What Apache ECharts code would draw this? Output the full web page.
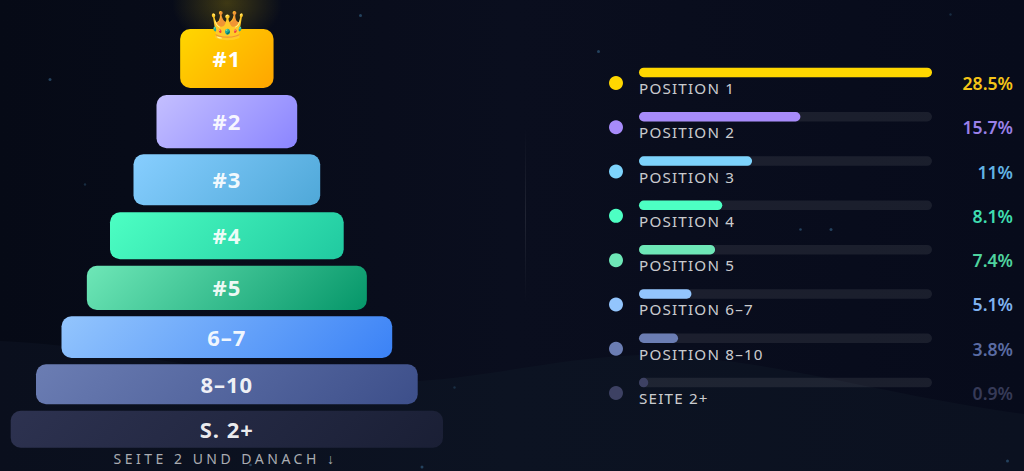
<!DOCTYPE html>
<html>
<head>
<meta charset="utf-8">
<style>
html,body{margin:0;padding:0;width:1024px;height:471px;overflow:hidden;background:#070b18}
#bg{position:absolute;left:0;top:0}
#chart{position:absolute;left:0;top:0;width:1024px;height:471px}
#chart text[style*="15.2px"]{letter-spacing:1.2px}
#chart text[style*="14px"]{letter-spacing:3.5px}
#chart text[style*="22px"]{letter-spacing:1px}
</style>
<script src="https://cdn.jsdelivr.net/npm/echarts@6/dist/echarts.min.js"></script>
</head>
<body>
<svg id="bg" width="1024" height="471" xmlns="http://www.w3.org/2000/svg">
  <defs>
    <linearGradient id="sky" x1="0" y1="0" x2="1" y2="0">
      <stop offset="0" stop-color="#060a16"/><stop offset="0.5" stop-color="#0a0e1e"/><stop offset="1" stop-color="#070b1b"/>
    </linearGradient>
    <linearGradient id="wave" x1="0" y1="0" x2="1" y2="0">
      <stop offset="0" stop-color="#0a0f1d"/><stop offset="0.5" stop-color="#0c1322"/><stop offset="1" stop-color="#0b1120"/>
    </linearGradient>
    <radialGradient id="glow"><stop offset="0" stop-color="#ffd700" stop-opacity="0.22"/><stop offset="1" stop-color="#ffd700" stop-opacity="0"/></radialGradient>
    <linearGradient id="ray" x1="0" y1="0" x2="0" y2="1"><stop offset="0" stop-color="#fff" stop-opacity="0"/><stop offset="0.5" stop-color="#fff" stop-opacity="0.09"/><stop offset="1" stop-color="#fff" stop-opacity="0"/></linearGradient>
  </defs>
  <rect width="1024" height="471" fill="url(#sky)"/>
  <path d="M0 341 C120 345 280 392 420 381 C500 375 560 358 640 355 C760 355 880 395 1024 414 L1024 471 L0 471Z" fill="url(#wave)"/>
  <ellipse cx="227" cy="3" rx="55" ry="42" fill="url(#glow)"/>
  <rect x="525" y="128" width="1" height="175" fill="url(#ray)"/>
  <g fill="#24425e">
    <circle cx="50" cy="79.500" r="1.500"/><circle cx="85" cy="184.500" r="1.200" opacity=".6"/><circle cx="360.500" cy="15.500" r="1.500"/>
    <circle cx="598.500" cy="51.500" r="1.500"/><circle cx="800.500" cy="229.500" r="1.300"/><circle cx="831" cy="229.500" r="1.500"/>
    <circle cx="454.500" cy="387.500" r="1.200" opacity=".6"/><circle cx="422" cy="467" r="1.500"/><circle cx="250.500" cy="465" r="1.300"/>
    <circle cx="1007.500" cy="461" r="1.500"/><circle cx="950.500" cy="14.500" r="1.200" opacity=".6"/>
  </g>
</svg>
<div id="chart"></div>
<script>
// ---- chart values ----
const tierLabels = ['#1', '#2', '#3', '#4', '#5', '6–7', '8–10', 'S. 2+'];
const rowLabels = ['POSITION 1', 'POSITION 2', 'POSITION 3', 'POSITION 4', 'POSITION 5', 'POSITION 6–7', 'POSITION 8–10', 'SEITE 2+'];
const shares = [28.5, 15.7, 11, 8.1, 7.4, 5.1, 3.8, 0.9];
const caption = 'SEITE 2 UND DANACH ↓';
const crown = '👑';

// ---- pyramid extents, read in chart units (axes below are 1 unit = 1 px) ----
const tierWidths = [93.4, 140.7, 186.7, 233.7, 280, 330.7, 381.7, 432.3];
const tierTops = [29, 95, 154.3, 212.3, 265.7, 316.3, 364.3, 410.7];
const tierBottoms = [88, 148.3, 205.3, 259.3, 310, 358, 404.3, 447.7];

// ---- styles ----
const dotColors = ['#FFD700', '#A78BFA', '#7DD3FC', '#4DFFC3', '#6EE7B7', '#93C5FD', '#6B7DB3', '#3D4163'];
const valueColors = ['#F5C518', '#9A80E8', '#62B3E4', '#3FDDAF', '#4FD39F', '#7FB2F0', '#5A6BA3', '#363A57'];
const gradStart = ['#FFD700', '#C4BFFF', '#87CEFF', '#4DFFC3', '#6EE7B7', '#93C5FD', '#6B7DB3', '#2D3250'];
const gradEnd = ['#FFA500', '#8B85FF', '#4FA8D8', '#20C9A0', '#059669', '#3B82F6', '#3D4F8A', '#1A1F35'];
const FONT = '"Noto Sans", sans-serif';
const maxShare = Math.max.apply(null, shares);

const chart = echarts.init(document.getElementById('chart'), null, {renderer: 'svg', width: 1024, height: 471});

function renderTier(params, api) {
  const i = params.dataIndex;
  const w = api.value(0), t = api.value(1), b = api.value(2);
  const p0 = api.coord([-w / 2, t]), p1 = api.coord([w / 2, b]);
  const W = p1[0] - p0[0], H = p1[1] - p0[1];
  const cx = p0[0] + W / 2, cy = p0[1] + H / 2, d = (W + H) / 4;
  return {
    type: 'group',
    children: [{
      type: 'rect',
      shape: {x: p0[0], y: p0[1], width: W, height: H, r: 10},
      style: {
        fill: new echarts.graphic.LinearGradient(cx - d, cy - d, cx + d, cy + d,
          [{offset: 0, color: gradStart[i]}, {offset: 1, color: gradEnd[i]}], true)
      }
    }, {
      type: 'text',
      style: {
        x: cx, y: cy - 0.5, text: tierLabels[i], fill: i === 0 ? '#ffffff' : 'rgba(255,255,255,0.92)',
        font: '700 22px ' + FONT, align: 'center', verticalAlign: 'middle'
      }
    }]
  };
}

chart.setOption({
  backgroundColor: 'transparent',
  animation: false,
  grid: [
    {left: 10.7, width: 432.3, top: 0, height: 471},
    {left: 639, width: 293, top: 50.3, height: 354.4},
    {left: 609, width: 404, top: 60.8, height: 354.4}
  ],
  xAxis: [
    {gridIndex: 0, type: 'value', min: -216.15, max: 216.15, show: false},
    {gridIndex: 1, type: 'value', min: 0, max: maxShare, show: false},
    {gridIndex: 2, type: 'value', min: 0, max: 404, show: false}
  ],
  yAxis: [
    {gridIndex: 0, type: 'value', min: 0, max: 471, inverse: true, show: false},
    {gridIndex: 1, type: 'category', data: rowLabels, inverse: true, show: false},
    {gridIndex: 2, type: 'category', data: rowLabels, inverse: true, show: false}
  ],
  title: {
    text: caption, left: 225.5, top: 450, textAlign: 'center', padding: 0,
    textStyle: {color: 'rgba(255,255,255,0.66)', fontFamily: FONT, fontSize: 14, fontWeight: 400, lineHeight: 16}
  },
  graphic: [{
    type: 'text', left: 210, top: 11,
    style: {text: crown, font: '28px "Noto Color Emoji", ' + FONT, fill: '#FFD700'}, z: 20
  }],
  series: [
    {
      type: 'custom', xAxisIndex: 0, yAxisIndex: 0, renderItem: renderTier,
      data: tierWidths.map((w, i) => [w, tierTops[i], tierBottoms[i]]),
      encode: {x: 0, y: [1, 2]}
    },
    {
      type: 'bar', xAxisIndex: 1, yAxisIndex: 1, barWidth: 9.5, barGap: '-100%',
      data: shares.map(() => maxShare),
      itemStyle: {color: 'rgba(255,255,255,0.08)', borderRadius: 5},
      label: {
        show: true, position: 'insideLeft', distance: 0, offset: [0, 15.5],
        formatter: p => p.name, color: 'rgba(255,255,255,0.8)', fontFamily: FONT, fontSize: 15.2
      }
    },
    {
      type: 'bar', xAxisIndex: 1, yAxisIndex: 1, barWidth: 9.5, barGap: '-100%',
      data: shares.map((v, i) => ({value: v, itemStyle: {color: dotColors[i]}})),
      itemStyle: {borderRadius: 5}
    },
    {
      type: 'scatter', xAxisIndex: 2, yAxisIndex: 2, symbolSize: 14,
      data: shares.map((v, i) => ({value: [7, i], itemStyle: {color: dotColors[i], opacity: 1}}))
    },
    {
      type: 'scatter', xAxisIndex: 2, yAxisIndex: 2, symbolSize: 0,
      itemStyle: {opacity: 1},
      data: shares.map((v, i) => ({
        value: [404, i],
        label: {
          show: true, position: 'left', distance: 0, formatter: v + '%',
          color: valueColors[i], fontFamily: FONT, fontSize: 17.6, fontWeight: 600
        }
      }))
    }
  ]
});
</script>
</body>
</html>
